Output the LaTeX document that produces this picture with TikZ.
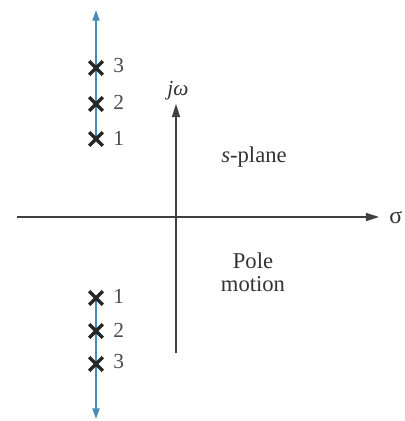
\documentclass[tikz,border=0pt]{standalone}
\usepackage{fontspec}
\setmainfont{Liberation Serif}
\usetikzlibrary{shapes.misc,arrows.meta}
\begin{document}
\begin{tikzpicture}[x=0.42pt,y=-0.42pt,
  axis/.style={draw=black!75,line width=0.6pt,-{Triangle[length=5.5pt,width=3.4pt]}},
  poleline/.style={draw={rgb,255:red,70;green,140;blue,180},line width=0.7pt,-{Triangle[length=4.5pt,width=3pt]}},
  pole/.style={cross out,draw=black!85,line width=1.4pt,minimum size=4.3pt,inner sep=0pt},
  lbl/.style={font=\fontsize{9}{10}\selectfont,text=black!70,anchor=west,inner sep=0pt},
  txt/.style={font=\fontsize{9.5}{9.5}\selectfont,text=black!80,align=center,inner sep=0pt}]
\useasboundingbox (0,0) rectangle (405,421);
% axes
\coordinate (hL) at (17,217);
\coordinate (hR) at (379,217);
\coordinate (vB) at (176,353);
\coordinate (vT) at (176,104);
\draw[axis] (hL) -- (hR);
\draw[axis] (vB) -- (vT);
\node[txt,anchor=west,font=\fontsize{10}{10}\selectfont] (sig) at (389,218) {σ};
\node[txt,font=\fontsize{9}{9}\selectfont] (jw) at (178,91) {\textit{j}\textit{ω}};
\node[txt] (sp) at (254,157) {\textit{s}-plane};
\node[txt] (pm) at (253,272) {Pole\\motion};
% pole line
\coordinate (pT) at (96,10);
\coordinate (pB) at (96,419);
\coordinate (pM1) at (96,140);
\coordinate (pM2) at (96,298);
\draw[poleline] (pM1) -- (pT);
\draw[poleline] (pM2) -- (pB);
% poles
\node[pole] (u3) at (96,68) {};
\node[pole] (u2) at (96,104) {};
\node[pole] (u1) at (96,139) {};
\node[pole] (d1) at (96,298) {};
\node[pole] (d2) at (96,331) {};
\node[pole] (d3) at (96,364) {};
\node[lbl] at (113,66) {3};
\node[lbl] at (113,102) {2};
\node[lbl] at (113,138) {1};
\node[lbl] at (113,296) {1};
\node[lbl] at (113,330) {2};
\node[lbl] at (113,362) {3};
\end{tikzpicture}
\end{document}
